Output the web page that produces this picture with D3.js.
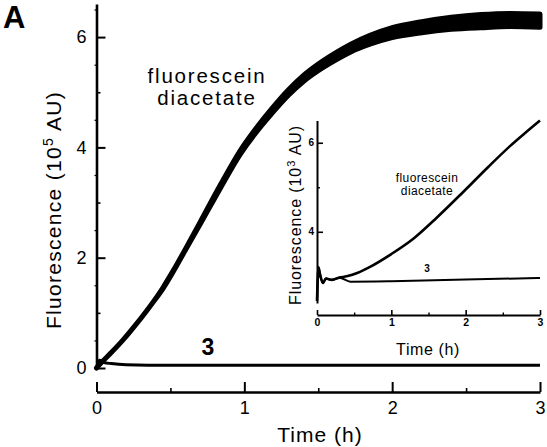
<!DOCTYPE html>
<html>
<head>
<meta charset="utf-8">
<script src="https://cdn.jsdelivr.net/npm/d3@7"></script>
<style>
  body { margin: 0; background: #fff; }
  svg text { font-family: "Liberation Sans", Arial, Helvetica, sans-serif; fill: #000; }
  .axis path, .axis line { stroke: #000; }
</style>
</head>
<body>
<div id="chart"></div>
<script>
// main panel: fluorescence (10^5 AU) vs time (h)
const fdaTime   = [0, 0.03, 0.1, 0.18, 0.27, 0.365, 0.45, 0.52, 0.6, 0.7, 0.84, 0.97, 1.1, 1.18, 1.3, 1.4, 1.5, 1.6, 1.72, 1.85, 2.0, 2.2, 2.4, 2.6, 2.8, 3.0];
const fdaValue  = [0, 0.09, 0.28, 0.51, 0.8, 1.13, 1.45, 1.76, 2.14, 2.62, 3.3, 3.9, 4.38, 4.64, 5.0, 5.25, 5.45, 5.62, 5.8, 5.95, 6.08, 6.18, 6.25, 6.29, 6.31, 6.3];
// scatter half-width of the noisy trace, same units
const fdaSpread = [0, 0, 0, 0, 0, 0, 0.01, 0.01, 0.01, 0.02, 0.03, 0.035, 0.04, 0.045, 0.05, 0.055, 0.06, 0.065, 0.07, 0.08, 0.09, 0.1, 0.11, 0.12, 0.12, 0.12];
const cpd3Time  = [0, 0.02, 0.05, 0.1, 0.2, 0.5, 1, 1.5, 2, 2.5, 3];
const cpd3Value = [0, 0.14, 0.1, 0.08, 0.06, 0.05, 0.05, 0.05, 0.05, 0.05, 0.05];

// inset: fluorescence (10^3 AU) vs time (h)
const insetFdaTime   = [0, 0.02, 0.04, 0.08, 0.12, 0.2, 0.3, 0.4, 0.55, 0.7, 1.0, 1.3, 1.6, 1.97, 2.3, 2.6, 2.8, 3.0];
const insetFdaValue  = [2.45, 3.2, 3.05, 2.85, 2.95, 2.92, 2.97, 3.0, 3.08, 3.2, 3.5, 3.85, 4.3, 4.9, 5.45, 5.93, 6.22, 6.5];
const insetCpd3Time  = [0, 0.02, 0.04, 0.08, 0.12, 0.2, 0.3, 0.45, 1, 2, 3];
const insetCpd3Value = [2.45, 3.2, 3.05, 2.85, 2.95, 2.92, 2.97, 2.88, 2.89, 2.93, 2.96];

const xTicks = [0, 1, 2, 3];
const xMinor = [0.5, 1.5, 2.5];
const yTicks = [0, 2, 4, 6];
const yMinor = [1, 3, 5];
const yHalf  = [0.5, 1.5, 2.5, 3.5, 4.5, 5.5, 6.5];
const insetYTicks = [4, 6];
const insetYMinor = [3, 5];

const width = 547, height = 447;

const svg = d3.select("#chart")
    .append("svg")
    .attr("width", width)
    .attr("height", height);

// ---------- main panel ----------
const x = d3.scaleLinear().domain([0, 3]).range([96.5, 540]);
const y = d3.scaleLinear().domain([0, 6.6]).range([368, 4]);

// y axis, ticks pointing into the plot
svg.append("g")
    .attr("class", "axis")
    .attr("transform", "translate(96.5,0)")
    .call(d3.axisLeft(y).tickValues(yTicks).tickSizeInner(-9).tickSizeOuter(0).tickPadding(10).tickFormat(d3.format("d")))
    .call(g => g.select(".domain").attr("stroke-width", 2.6))
    .call(g => g.selectAll(".tick line").attr("stroke-width", 2))
    .call(g => g.selectAll("text").attr("font-size", 18).attr("fill", "#000"));
svg.append("g")
    .attr("class", "axis")
    .attr("transform", "translate(96.5,0)")
    .call(d3.axisLeft(y).tickValues(yMinor).tickSize(-4).tickFormat(""))
    .call(g => g.select(".domain").remove())
    .call(g => g.selectAll(".tick line").attr("stroke-width", 1.6));
svg.append("g")
    .attr("class", "axis")
    .attr("transform", "translate(96.5,0)")
    .call(d3.axisLeft(y).tickValues(yHalf).tickSize(2).tickFormat(""))
    .call(g => g.select(".domain").remove())
    .call(g => g.selectAll(".tick line").attr("stroke-width", 1.2));

// x axis, offset below the plot, ticks pointing up
svg.append("g")
    .attr("class", "axis")
    .attr("transform", "translate(0,392)")
    .call(d3.axisBottom(x).tickValues(xTicks).tickSizeInner(-10).tickSizeOuter(0).tickPadding(9).tickFormat(d3.format("d")))
    .call(g => g.select(".domain").attr("stroke-width", 2.4))
    .call(g => g.selectAll(".tick line").attr("stroke-width", 2))
    .call(g => g.selectAll("text").attr("font-size", 18).attr("fill", "#000"));
svg.append("g")
    .attr("class", "axis")
    .attr("transform", "translate(0,392)")
    .call(d3.axisBottom(x).tickValues(xMinor).tickSize(-4).tickFormat(""))
    .call(g => g.select(".domain").remove())
    .call(g => g.selectAll(".tick line").attr("stroke-width", 1.6));

// axis titles
svg.append("text")
    .attr("text-anchor", "middle")
    .attr("x", 320)
    .attr("y", 442)
    .attr("font-size", 21)
    .attr("letter-spacing", 1)
    .text("Time (h)");

const yTitle = svg.append("text")
    .attr("text-anchor", "middle")
    .attr("transform", "translate(61,210) rotate(-90)")
    .attr("font-size", 21)
    .attr("letter-spacing", 1.3);
yTitle.append("tspan").text("Fluorescence (10");
yTitle.append("tspan").attr("font-size", 14).attr("dy", -8).text("5");
yTitle.append("tspan").attr("dy", 8).text(" AU)");

// panel letter
svg.append("text")
    .attr("x", 3)
    .attr("y", 28)
    .attr("font-size", 31)
    .attr("font-weight", "bold")
    .text("A");

// fluorescein diacetate trace: noisy band + line
const fdaData = fdaTime.map((t, i) => ({t: t, v: fdaValue[i], s: fdaSpread[i]}));
const band = d3.area()
    .x(d => x(d.t))
    .y0(d => y(d.v - d.s))
    .y1(d => y(d.v + d.s))
    .curve(d3.curveMonotoneX);
svg.append("path")
    .datum(fdaData)
    .attr("fill", "#000")
    .attr("stroke", "#000")
    .attr("stroke-width", 5)
    .attr("stroke-linejoin", "round")
    .attr("d", band);

const cpd3Data = cpd3Time.map((t, i) => ({t: t, v: cpd3Value[i]}));
const line = d3.line()
    .x(d => x(d.t))
    .y(d => y(d.v))
    .curve(d3.curveMonotoneX);
svg.append("path")
    .datum(cpd3Data)
    .attr("fill", "none")
    .attr("stroke", "#000")
    .attr("stroke-width", 3)
    .attr("d", line);

// series labels
svg.append("text")
    .attr("text-anchor", "middle")
    .attr("font-size", 20.5)
    .attr("letter-spacing", 1.8)
    .selectAll("tspan")
    .data(["fluorescein", "diacetate"])
    .join("tspan")
    .attr("x", 207)
    .attr("y", (d, i) => 83 + i * 22)
    .text(d => d);

svg.append("text")
    .attr("text-anchor", "middle")
    .attr("x", 208)
    .attr("y", 355)
    .attr("font-size", 23)
    .attr("font-weight", "bold")
    .text("3");

// ---------- inset ----------
const ix = d3.scaleLinear().domain([0, 3]).range([317, 540]);
const iy = d3.scaleLinear().domain([2.4, 6.5]).range([303, 120.5]);

svg.append("g")
    .attr("class", "axis")
    .attr("transform", "translate(317,0)")
    .call(d3.axisLeft(iy).tickValues(insetYTicks).tickSizeInner(-6).tickSizeOuter(0).tickPadding(3).tickFormat(d3.format("d")))
    .call(g => g.select(".domain").attr("stroke-width", 2))
    .call(g => g.selectAll(".tick line").attr("stroke-width", 1.6))
    .call(g => g.selectAll("text").attr("font-size", 10).attr("font-weight", "bold").attr("fill", "#000"));
svg.append("g")
    .attr("class", "axis")
    .attr("transform", "translate(317,0)")
    .call(d3.axisLeft(iy).tickValues(insetYMinor).tickSize(-3).tickFormat(""))
    .call(g => g.select(".domain").remove())
    .call(g => g.selectAll(".tick line").attr("stroke-width", 1.4));

svg.append("g")
    .attr("class", "axis")
    .attr("transform", "translate(0,315)")
    .call(d3.axisBottom(ix).tickValues(xTicks).tickSizeInner(-5).tickSizeOuter(0).tickPadding(4).tickFormat(d3.format("d")))
    .call(g => g.select(".domain").attr("stroke-width", 2))
    .call(g => g.selectAll(".tick line").attr("stroke-width", 1.6))
    .call(g => g.selectAll("text").attr("font-size", 10.5).attr("font-weight", "bold").attr("fill", "#000"));
svg.append("g")
    .attr("class", "axis")
    .attr("transform", "translate(0,315)")
    .call(d3.axisBottom(ix).tickValues(xMinor).tickSize(-2.5).tickFormat(""))
    .call(g => g.select(".domain").remove())
    .call(g => g.selectAll(".tick line").attr("stroke-width", 1.4));

svg.append("text")
    .attr("text-anchor", "middle")
    .attr("x", 428)
    .attr("y", 355)
    .attr("font-size", 16)
    .attr("letter-spacing", 0.6)
    .text("Time (h)");

const iyTitle = svg.append("text")
    .attr("text-anchor", "middle")
    .attr("transform", "translate(301,215) rotate(-90)")
    .attr("font-size", 16)
    .attr("letter-spacing", 0.9);
iyTitle.append("tspan").text("Fluorescence (10");
iyTitle.append("tspan").attr("font-size", 11).attr("dy", -6).text("3");
iyTitle.append("tspan").attr("dy", 6).text(" AU)");

const iline = d3.line()
    .x(d => ix(d.t))
    .y(d => iy(d.v))
    .curve(d3.curveMonotoneX);
svg.append("path")
    .datum(insetCpd3Time.map((t, i) => ({t: t, v: insetCpd3Value[i]})))
    .attr("fill", "none")
    .attr("stroke", "#000")
    .attr("stroke-width", 2)
    .attr("d", iline);
svg.append("path")
    .datum(insetFdaTime.map((t, i) => ({t: t, v: insetFdaValue[i]})))
    .attr("fill", "none")
    .attr("stroke", "#000")
    .attr("stroke-width", 2.6)
    .attr("d", iline);

svg.append("text")
    .attr("text-anchor", "middle")
    .attr("font-size", 12)
    .attr("letter-spacing", 0.4)
    .selectAll("tspan")
    .data(["fluorescein", "diacetate"])
    .join("tspan")
    .attr("x", 427)
    .attr("y", (d, i) => 182 + i * 13)
    .text(d => d);

svg.append("text")
    .attr("text-anchor", "middle")
    .attr("x", 427)
    .attr("y", 272)
    .attr("font-size", 10)
    .attr("font-weight", "bold")
    .text("3");
</script>
</body>
</html>
